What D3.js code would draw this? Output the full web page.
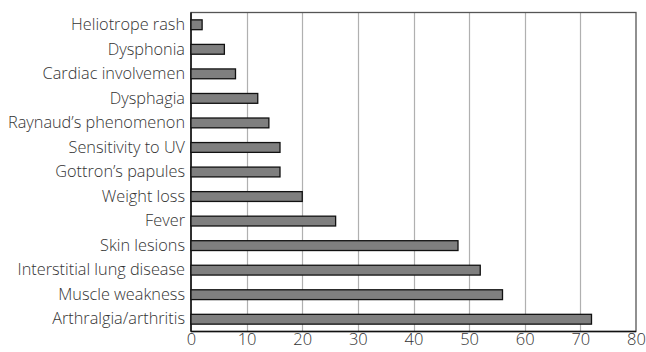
<!DOCTYPE html>
<html><head><meta charset="utf-8">
<script src="https://cdn.jsdelivr.net/npm/d3@7"></script>
<style>body{margin:0;background:#fff}svg{display:block}text{font-family:"Open Sans",sans-serif}</style>
</head><body><svg id="c" width="646" height="352"></svg>
<script>
const categories = ["Heliotrope rash","Dysphonia","Cardiac involvemen","Dysphagia","Raynaud\u2019s phenomenon","Sensitivity to UV","Gottron\u2019s papules","Weight loss","Fever","Skin lesions","Interstitial lung disease","Muscle weakness","Arthralgia/arthritis"];
const values = [2,6,8,12,14,16,16,20,26,48,52,56,72];
const xTicks = [0,10,20,30,40,50,60,70,80];

const svg = d3.select("#c");
const m = {l:191, r:636, t:12.5, b:331.5};
const x = d3.scaleLinear().domain([0,80]).range([m.l, m.r]);
const y = d3.scaleBand().domain(categories).range([m.t, m.b]).paddingInner(0.6).paddingOuter(0.3);

// gridlines
svg.append("g").selectAll("line").data(xTicks.slice(1,-1)).join("line")
  .attr("x1", d=>Math.round(x(d))+0.5).attr("x2", d=>Math.round(x(d))+0.5)
  .attr("y1", m.t).attr("y2", m.b)
  .attr("stroke","#b0b0b0").attr("stroke-width",1.2);

// frame
svg.append("rect").attr("x", m.l).attr("y", m.t).attr("width", m.r-m.l).attr("height", m.b-m.t)
  .attr("fill","none").attr("stroke","#555").attr("stroke-width",1.3);
svg.append("line").attr("x1",m.l).attr("x2",m.l).attr("y1",m.t).attr("y2",m.b).attr("stroke","#111").attr("stroke-width",1.5);
svg.append("line").attr("x1",m.l).attr("x2",m.r).attr("y1",m.b).attr("y2",m.b).attr("stroke","#111").attr("stroke-width",1.5);

// bars
svg.append("g").selectAll("rect").data(values).join("rect")
  .attr("x", x(0)).attr("y", (d,i)=>y(categories[i]))
  .attr("width", d=>x(d)-x(0)).attr("height", y.bandwidth())
  .attr("fill","#7f7f7f").attr("stroke","#111").attr("stroke-width",1.3);

// y axis labels
const ya = d3.axisLeft(y).tickSize(0).tickPadding(6);
const gy = svg.append("g").attr("transform",`translate(${m.l},0)`).call(ya);
gy.select(".domain").remove();
gy.selectAll("text").attr("font-size",16.3).attr("font-weight",300).attr("fill","#333").attr("font-family","'Open Sans',sans-serif");

// x axis
const xa = d3.axisBottom(x).tickValues(xTicks).tickSize(0).tickPadding(2);
const gx = svg.append("g").attr("transform",`translate(0,${m.b})`).call(xa);
gx.select(".domain").remove();
gx.selectAll("text").attr("font-size",16.5).attr("font-weight",300).attr("fill","#333").attr("font-family","'Open Sans',sans-serif");
</script></body></html>
